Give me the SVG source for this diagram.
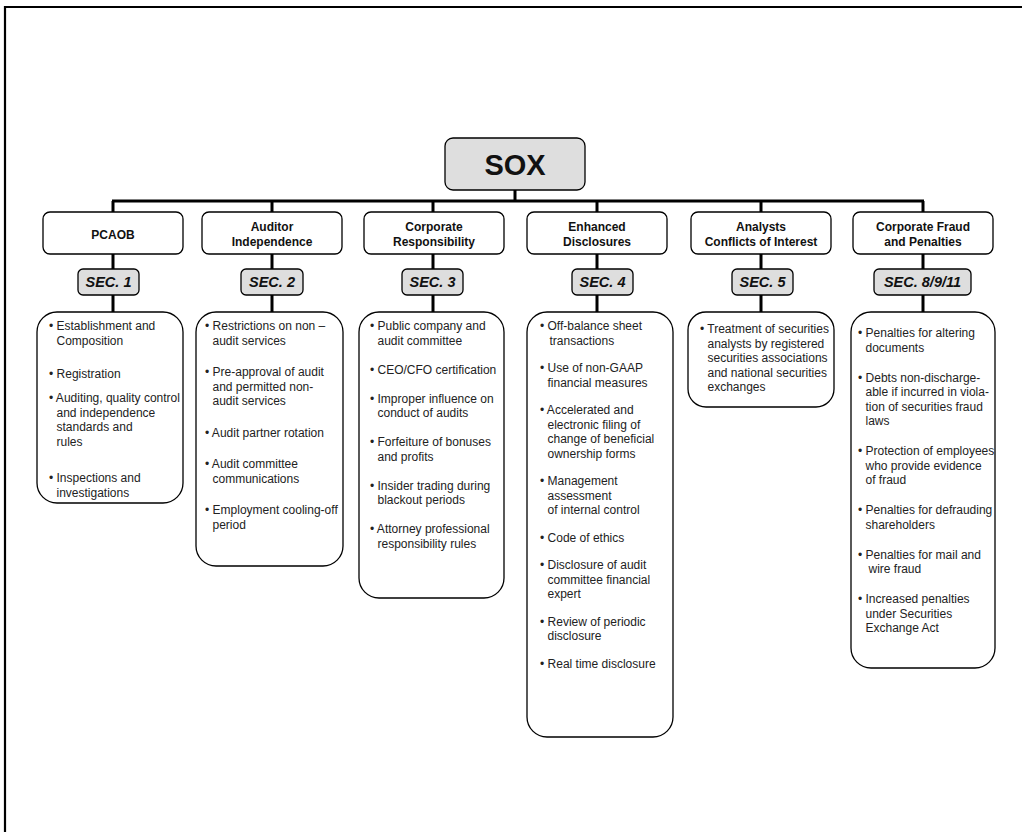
<svg xmlns="http://www.w3.org/2000/svg" width="1022" height="832" viewBox="0 0 1022 832">
<style>
.frame{fill:none;stroke:#000;stroke-width:2.2}
.box{fill:#fff;stroke:#000;stroke-width:1.3}
.gray{fill:#dedede;stroke:#000;stroke-width:1.3}
.conn{fill:none;stroke:#000;stroke-width:3}
.sox{font-family:"Liberation Sans",Arial,sans-serif;font-weight:bold;font-size:29px;text-anchor:middle;fill:#111}
.hdr{font-family:"Liberation Sans",Arial,sans-serif;font-weight:bold;font-size:12px;text-anchor:middle;fill:#111}
.sec{font-family:"Liberation Sans",Arial,sans-serif;font-weight:bold;font-style:italic;font-size:14.5px;text-anchor:middle;fill:#111}
.body{font-family:"Liberation Sans",Arial,sans-serif;font-size:12px;fill:#222}
</style>
<path class="frame" d="M5,832 V7 H1022"/>
<g id="connectors">
<path class="conn" d="M515,190 V201 M112,201 H924 M113,201 V212 M272,201 V212 M433,201 V212 M597,201 V212 M761,201 V212 M923,201 V212"/>
<path class="conn" d="M113,254 V269 M272,254 V269 M433,254 V269 M597,254 V269 M761,254 V269 M923,254 V269"/>
<path class="conn" d="M113,295 V312 M272,295 V312 M433,295 V312 M597,295 V312 M761,295 V312 M923,295 V312"/>
</g>
<g id="sox">
<rect class="gray" x="445" y="138" width="140" height="52" rx="8"/>
<text class="sox" x="515" y="175">SOX</text>
</g>
<g id="pcaob">
<rect class="box" x="43" y="212" width="140" height="42" rx="7"/>
<text class="hdr" x="113" y="239">PCAOB</text>
<rect class="gray" x="78" y="269" width="61" height="26" rx="5"/>
<text class="sec" x="108.5" y="287">SEC. 1</text>
<rect class="box" x="37" y="312" width="146" height="191" rx="20"/>
<text class="body"><tspan x="49" y="330">• Establishment and</tspan><tspan x="56.5" y="344.5">Composition</tspan><tspan x="49" y="378">• Registration</tspan><tspan x="49" y="402">• Auditing, quality control</tspan><tspan x="56.5" y="416.5">and independence</tspan><tspan x="56.5" y="431">standards and</tspan><tspan x="56.5" y="445.5">rules</tspan><tspan x="49" y="482">• Inspections and</tspan><tspan x="56.5" y="496.5">investigations</tspan></text>
</g>
<g id="auditor">
<rect class="box" x="202" y="212" width="140" height="42" rx="7"/>
<text class="hdr" x="272" y="231">Auditor</text>
<text class="hdr" x="272" y="246">Independence</text>
<rect class="gray" x="241" y="269" width="62" height="26" rx="5"/>
<text class="sec" x="272" y="287">SEC. 2</text>
<rect class="box" x="196" y="312" width="147" height="254" rx="20"/>
<text class="body"><tspan x="205" y="330">• Restrictions on non –</tspan><tspan x="212.5" y="344.5">audit services</tspan><tspan x="205" y="376">• Pre-approval of audit</tspan><tspan x="212.5" y="390.5">and permitted non-</tspan><tspan x="212.5" y="405">audit services</tspan><tspan x="205" y="436.5">• Audit partner rotation</tspan><tspan x="205" y="468">• Audit committee</tspan><tspan x="212.5" y="482.5">communications</tspan><tspan x="205" y="514">• Employment cooling-off</tspan><tspan x="212.5" y="528.5">period</tspan></text>
</g>
<g id="corporate">
<rect class="box" x="364" y="212" width="140" height="42" rx="7"/>
<text class="hdr" x="434" y="231">Corporate</text>
<text class="hdr" x="434" y="246">Responsibility</text>
<rect class="gray" x="402" y="269" width="61" height="26" rx="5"/>
<text class="sec" x="432.5" y="287">SEC. 3</text>
<rect class="box" x="359" y="312" width="145" height="286" rx="20"/>
<text class="body"><tspan x="370" y="330">• Public company and</tspan><tspan x="377.5" y="344.5">audit committee</tspan><tspan x="370" y="373.5">• CEO/CFO certification</tspan><tspan x="370" y="402.5">• Improper influence on</tspan><tspan x="377.5" y="417">conduct of audits</tspan><tspan x="370" y="446">• Forfeiture of bonuses</tspan><tspan x="377.5" y="460.5">and profits</tspan><tspan x="370" y="489.5">• Insider trading during</tspan><tspan x="377.5" y="504">blackout periods</tspan><tspan x="370" y="533">• Attorney professional</tspan><tspan x="377.5" y="547.5">responsibility rules</tspan></text>
</g>
<g id="enhanced">
<rect class="box" x="527" y="212" width="140" height="42" rx="7"/>
<text class="hdr" x="597" y="231">Enhanced</text>
<text class="hdr" x="597" y="246">Disclosures</text>
<rect class="gray" x="572" y="269" width="61" height="26" rx="5"/>
<text class="sec" x="602.5" y="287">SEC. 4</text>
<rect class="box" x="527" y="312" width="146" height="425" rx="20"/>
<text class="body"><tspan x="540" y="330">• Off-balance sheet</tspan><tspan x="549.5" y="344.5">transactions</tspan><tspan x="540" y="372">• Use of non-GAAP</tspan><tspan x="547.5" y="386.5">financial measures</tspan><tspan x="540" y="414">• Accelerated and</tspan><tspan x="547.5" y="428.5">electronic filing of</tspan><tspan x="547.5" y="443">change of beneficial</tspan><tspan x="547.5" y="457.5">ownership forms</tspan><tspan x="540" y="485">• Management</tspan><tspan x="547.5" y="499.5">assessment</tspan><tspan x="547.5" y="514">of internal control</tspan><tspan x="540" y="541.5">• Code of ethics</tspan><tspan x="540" y="569">• Disclosure of audit</tspan><tspan x="547.5" y="583.5">committee financial</tspan><tspan x="547.5" y="598">expert</tspan><tspan x="540" y="625.5">• Review of periodic</tspan><tspan x="547.5" y="640">disclosure</tspan><tspan x="540" y="667.5">• Real time disclosure</tspan></text>
</g>
<g id="analysts">
<rect class="box" x="691" y="212" width="140" height="42" rx="7"/>
<text class="hdr" x="761" y="231">Analysts</text>
<text class="hdr" x="761" y="246">Conflicts of Interest</text>
<rect class="gray" x="732" y="269" width="61" height="26" rx="5"/>
<text class="sec" x="762.5" y="287">SEC. 5</text>
<rect class="box" x="688" y="312" width="146" height="95" rx="18"/>
<text class="body"><tspan x="700" y="333">• Treatment of securities</tspan><tspan x="707.5" y="347.5">analysts by registered</tspan><tspan x="707.5" y="362">securities associations</tspan><tspan x="707.5" y="376.5">and national securities</tspan><tspan x="707.5" y="391">exchanges</tspan></text>
</g>
<g id="fraud">
<rect class="box" x="853" y="212" width="140" height="42" rx="7"/>
<text class="hdr" x="923" y="231">Corporate Fraud</text>
<text class="hdr" x="923" y="246">and Penalties</text>
<rect class="gray" x="874" y="269" width="97" height="26" rx="5"/>
<text class="sec" x="922.5" y="287">SEC. 8/9/11</text>
<rect class="box" x="851" y="312" width="144" height="356" rx="20"/>
<text class="body"><tspan x="858" y="337">• Penalties for altering</tspan><tspan x="865.5" y="351.5">documents</tspan><tspan x="858" y="381.5">• Debts non-discharge-</tspan><tspan x="865.5" y="396">able if incurred in viola-</tspan><tspan x="865.5" y="410.5">tion of securities fraud</tspan><tspan x="865.5" y="425">laws</tspan><tspan x="858" y="455">• Protection of employees</tspan><tspan x="865.5" y="469.5">who provide evidence</tspan><tspan x="865.5" y="484">of fraud</tspan><tspan x="858" y="514">• Penalties for defrauding</tspan><tspan x="865.5" y="528.5">shareholders</tspan><tspan x="858" y="558.5">• Penalties for mail and</tspan><tspan x="868.5" y="573">wire fraud</tspan><tspan x="858" y="603">• Increased penalties</tspan><tspan x="865.5" y="617.5">under Securities</tspan><tspan x="865.5" y="632">Exchange Act</tspan></text>
</g>
</svg>
